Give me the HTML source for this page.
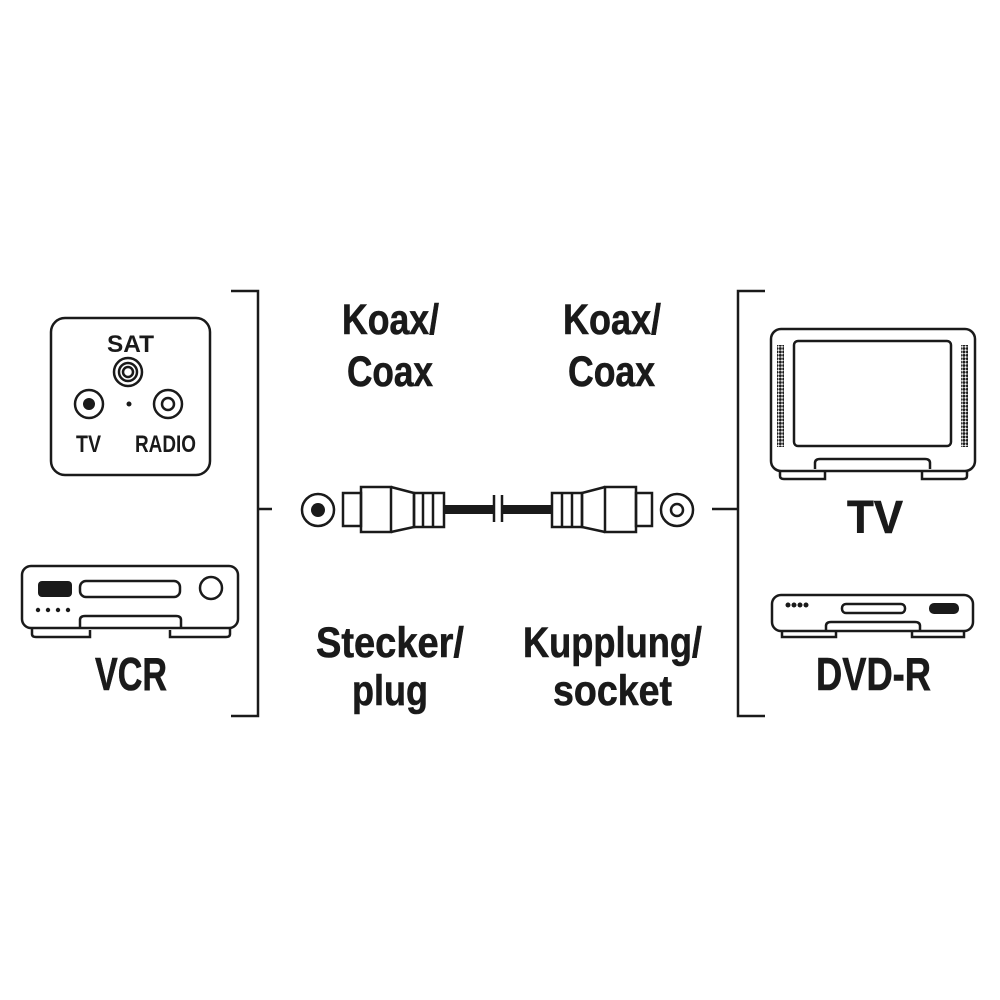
<!DOCTYPE html>
<html><head><meta charset="utf-8"><style>html,body{margin:0;padding:0;background:#fff}svg{display:block}</style></head>
<body>
<svg width="1000" height="1000" viewBox="0 0 1000 1000" xmlns="http://www.w3.org/2000/svg" font-family="'Liberation Sans Narrow','Liberation Sans',sans-serif" font-weight="bold" fill="#1a1a1a">
<defs><pattern id="sp" width="3.4" height="3.4" patternUnits="userSpaceOnUse"><circle cx="1.7" cy="1.7" r="1.5" fill="#1a1a1a"/></pattern></defs>
<g fill="none" stroke="#1a1a1a" stroke-width="2.5">
<path d="M231 291H258V716H231M258 509H272"/>
<path d="M765 291H738V716H765M738 509H712"/>
<rect x="51" y="318" width="159" height="157" rx="14"/>
<circle cx="128" cy="372" r="14"/><circle cx="128" cy="372" r="9"/><circle cx="128" cy="372" r="5"/>
<circle cx="89" cy="404" r="14"/><circle cx="168" cy="404" r="14"/><circle cx="168" cy="404" r="6"/>
<rect x="22" y="566" width="216" height="62" rx="9"/>
<rect x="80" y="581" width="100" height="16" rx="6"/>
<circle cx="211" cy="588" r="11"/>
<path d="M80 627V620Q80 616 85 616H176Q181 616 181 620V627"/>
<path d="M32 628V634Q32 637 36 637H90V630M170 630V637H226Q230 637 230 634V628"/>
<rect x="771" y="329" width="204" height="142" rx="10"/>
<rect x="794" y="341" width="157" height="105" rx="4"/>
<path d="M815 469V463Q815 459 820 459H925Q930 459 930 463V469"/>
<path d="M780 471V476Q780 479 784 479H825V471M922 471V479H963Q967 479 967 476V471"/>
<rect x="772" y="595" width="201" height="36" rx="9"/>
<rect x="842" y="604" width="63" height="9" rx="4"/>
<path d="M826 631V626Q826 622 831 622H915Q920 622 920 626V631"/>
<path d="M782 632V637H836V632M912 632V637H964V632"/>
<circle cx="318" cy="510" r="16"/>
<rect x="343" y="493" width="18" height="33"/>
<rect x="361" y="487" width="30" height="45"/>
<path d="M391 487L414 493V527L391 532"/>
<rect x="414" y="493" width="30" height="34"/>
<path d="M423 493V527M433 493V527"/>
<path d="M494 495V522M502 495V522"/>
<rect x="552" y="493" width="30" height="34"/>
<path d="M562 493V527M572 493V527"/>
<path d="M605 487L582 493V527L605 532"/>
<rect x="605" y="487" width="31" height="45"/>
<rect x="636" y="493" width="16" height="33"/>
<circle cx="677" cy="510" r="16"/><circle cx="677" cy="510" r="6"/>
</g>
<g stroke="none">
<circle cx="318" cy="510" r="7"/>
<rect x="444" y="505" width="50" height="9"/>
<rect x="502" y="505" width="50" height="9"/>
<circle cx="89" cy="404" r="6"/><circle cx="129" cy="404" r="2.5"/>
<rect x="38" y="581" width="34" height="16" rx="4"/>
<circle cx="38" cy="610" r="2.2"/><circle cx="48" cy="610" r="2.2"/><circle cx="58" cy="610" r="2.2"/><circle cx="68" cy="610" r="2.2"/>
<rect x="929" y="603" width="30" height="11" rx="5"/>
<circle cx="788" cy="605" r="2.5"/><circle cx="794" cy="605" r="2.5"/><circle cx="800" cy="605" r="2.5"/><circle cx="806" cy="605" r="2.5"/>
<rect x="777" y="345" width="7" height="102" fill="url(#sp)"/>
<rect x="961" y="345" width="7" height="102" fill="url(#sp)"/>
</g>
<g font-size="43" stroke="#1a1a1a" stroke-width="0.6">
<text x="342" y="334" textLength="97" lengthAdjust="spacingAndGlyphs">Koax/</text>
<text x="347" y="386" textLength="86" lengthAdjust="spacingAndGlyphs">Coax</text>
<text x="563" y="334" textLength="98" lengthAdjust="spacingAndGlyphs">Koax/</text>
<text x="568" y="386" textLength="87" lengthAdjust="spacingAndGlyphs">Coax</text>
<text x="316" y="657" textLength="148" lengthAdjust="spacingAndGlyphs">Stecker/</text>
<text x="352" y="705" textLength="76" lengthAdjust="spacingAndGlyphs">plug</text>
<text x="523" y="657" textLength="179" lengthAdjust="spacingAndGlyphs">Kupplung/</text>
<text x="553" y="705" textLength="119" lengthAdjust="spacingAndGlyphs">socket</text>
</g>
<g font-size="46" stroke="#1a1a1a" stroke-width="0.6">
<text x="95" y="690" textLength="72" lengthAdjust="spacingAndGlyphs">VCR</text>
<text x="847" y="533" textLength="56" lengthAdjust="spacingAndGlyphs">TV</text>
<text x="816" y="690" textLength="115" lengthAdjust="spacingAndGlyphs">DVD-R</text>
</g>
<g font-size="24">
<text x="107" y="352" textLength="47" lengthAdjust="spacingAndGlyphs">SAT</text>
<text x="76" y="452" textLength="25" lengthAdjust="spacingAndGlyphs">TV</text>
<text x="135" y="452" textLength="61" lengthAdjust="spacingAndGlyphs">RADIO</text>
</g>
</svg>
</body></html>
